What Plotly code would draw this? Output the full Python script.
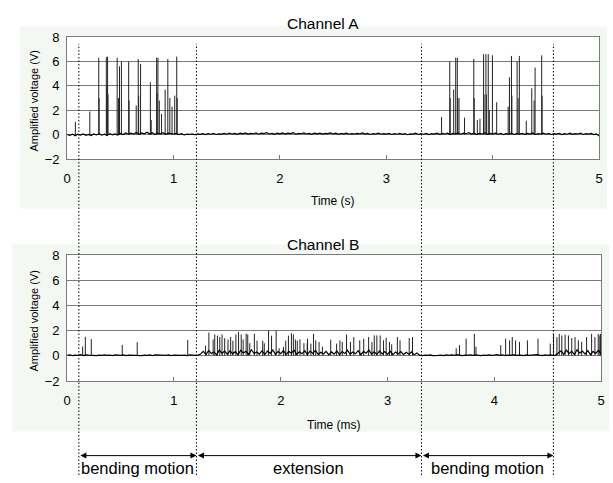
import numpy as np
import plotly.graph_objects as go

# ---------------- data ----------------
sample_step = 0.025  # s, baseline sampling interval
base_a = [0.02, -0.06, 0.05, -0.08, 0.04, -0.03, 0.07, -0.05, 0.03, -0.07, 0.06, -0.02, 0.08, -0.04, 0.05, -0.06, 0.09, -0.01, 0.06, -0.03,
          0.10, 0.02, 0.14, 0.04, 0.12, 0.06, 0.18, 0.03, 0.15, 0.08, 0.20, 0.05, 0.16, 0.02, 0.13, 0.07, 0.17, 0.04, 0.12, 0.09,
          0.06, 0.11, 0.01, 0.09, -0.02, 0.05, 0.02, 0.07, 0.00, 0.06, 0.03, 0.09, 0.01, 0.08, 0.04, 0.10, 0.02, 0.07, 0.05, 0.11,
          0.04, 0.12, 0.06, 0.10, 0.03, 0.13, 0.07, 0.15, 0.05, 0.11, 0.08, 0.14, 0.04, 0.12, 0.09, 0.16, 0.06, 0.10, 0.03, 0.13,
          0.07, 0.15, 0.05, 0.12, 0.09, 0.16, 0.04, 0.11, 0.08, 0.14, 0.06, 0.10, 0.03, 0.13, 0.07, 0.12, 0.05, 0.11, 0.09, 0.14,
          0.06, 0.12, 0.03, 0.10, 0.07, 0.13, 0.04, 0.09, 0.06, 0.11, 0.08, 0.14, 0.05, 0.10, 0.02, 0.09, 0.06, 0.12, 0.04, 0.08,
          0.05, 0.10, 0.02, 0.08, 0.04, 0.11, 0.03, 0.09, 0.00, 0.07, 0.05, 0.12, 0.02, 0.08, 0.04, 0.10, 0.01, 0.09, 0.05, 0.12,
          0.03, 0.10, 0.06, 0.13, 0.02, 0.11, 0.07, 0.15, 0.04, 0.12, 0.08, 0.16, 0.05, 0.13, 0.02, 0.11, 0.06, 0.14, 0.03, 0.10,
          0.07, 0.12, 0.04, 0.10, 0.01, 0.09, 0.05, 0.13, 0.02, 0.08, 0.06, 0.11, 0.03, 0.10, 0.05, 0.14, 0.02, 0.09, 0.06, 0.12,
          0.04, 0.10, 0.02, 0.08, 0.05, 0.11, 0.01, 0.09, 0.04, 0.12, 0.03, 0.08, 0.06, 0.13, 0.02, 0.09, 0.05, 0.10, 0.01, 0.07,
          -0.12]
base_b = [0.03, 0.07, 0.01, 0.06, 0.04, 0.09, 0.02, 0.08, 0.05, 0.03, 0.07, 0.02, 0.06, 0.04, 0.08, 0.03, 0.06, 0.01, 0.07, 0.05,
          0.04, 0.08, 0.02, 0.06, 0.05, 0.09, 0.03, 0.07, 0.01, 0.06, 0.04, 0.08, 0.02, 0.07, 0.05, 0.03, 0.06, 0.04, 0.08, 0.02,
          0.05, 0.03, 0.07, 0.04, 0.06, 0.02, 0.08, 0.05, 0.03, 0.06, 0.15, 0.35, 0.10, 0.42, 0.18, 0.30, 0.08, 0.45, 0.20, 0.38,
          0.12, 0.40, 0.16, 0.33, 0.09, 0.44, 0.22, 0.36, 0.11, 0.48, 0.18, 0.30, 0.14, 0.41, 0.10, 0.37, 0.20, 0.46, 0.13, 0.34,
          0.17, 0.42, 0.09, 0.35, 0.21, 0.45, 0.12, 0.32, 0.16, 0.40, 0.10, 0.38, 0.19, 0.43, 0.11, 0.29, 0.15, 0.36, 0.08, 0.31,
          0.14, 0.39, 0.10, 0.33, 0.18, 0.44, 0.12, 0.30, 0.16, 0.41, 0.09, 0.35, 0.20, 0.46, 0.13, 0.32, 0.11, 0.38, 0.15, 0.34,
          0.12, 0.36, 0.09, 0.30, 0.14, 0.33, 0.10, 0.28, 0.13, 0.31, 0.08, 0.22, 0.05, 0.02, 0.06, 0.03, 0.07, 0.01, 0.05, 0.04,
          0.06, 0.02, 0.08, 0.04, 0.07, 0.03, 0.09, 0.05, 0.02, 0.06, 0.04, 0.08, 0.03, 0.07, 0.05, 0.02, 0.06, 0.04, 0.08, 0.03,
          0.05, 0.09, 0.03, 0.07, 0.02, 0.06, 0.04, 0.10, 0.03, 0.07, 0.05, 0.02, 0.08, 0.04, 0.06, 0.03, 0.09, 0.05, 0.02, 0.07,
          0.04, 0.08, 0.03, 0.06, 0.20, 0.40, 0.12, 0.45, 0.18, 0.36, 0.10, 0.48, 0.22, 0.38, 0.14, 0.42, 0.09, 0.35, 0.19, 0.44,
          0.15]

spike_t_a = [0.077, 0.213, 0.297, 0.300, 0.368, 0.372, 0.380, 0.384, 0.470, 0.482,
             0.492, 0.510, 0.578, 0.582, 0.649, 0.668, 0.672, 0.690, 0.782, 0.790,
             0.841, 0.845, 0.853, 0.866, 0.887, 0.921, 0.946, 0.965, 0.986, 1.011,
             1.030, 1.034,
             3.519, 3.596, 3.600, 3.633, 3.652, 3.667, 3.671, 3.683, 3.735, 3.822,
             3.826, 3.855, 3.880, 3.914, 3.918, 3.936, 3.940, 3.958, 3.968, 3.997,
             4.037, 4.145, 4.157, 4.176, 4.180, 4.229, 4.238, 4.250, 4.315, 4.367,
             4.389, 4.398, 4.460, 4.464]
spike_h_a = [1.06, 1.9, 6.3, 3.0, 6.35, 4.0, 6.4, 3.3, 6.3, 3.0,
             5.6, 6.0, 6.0, 2.8, 2.4, 6.2, 3.2, 5.8, 4.3, 1.2,
             6.3, 3.4, 6.3, 2.8, 1.7, 3.7, 6.2, 3.0, 2.3, 3.2,
             6.4, 3.0,
             1.45, 6.0, 3.0, 3.7, 6.3, 6.3, 3.0, 3.0, 1.4, 6.2,
             3.0, 1.2, 1.3, 6.6, 3.3, 6.6, 3.3, 6.6, 2.0, 6.5,
             2.65, 2.3, 4.7, 6.45, 3.2, 6.0, 3.0, 6.45, 1.15, 3.8,
             2.8, 5.5, 6.5, 3.2]

spike_t_b = [0.145, 0.170, 0.226, 0.516, 0.656, 1.129,
             1.296, 1.327, 1.367, 1.382, 1.407, 1.429, 1.450, 1.475, 1.506, 1.531,
             1.552, 1.580, 1.605, 1.630, 1.648, 1.676, 1.691, 1.710, 1.753, 1.778,
             1.831, 1.846, 1.886, 1.914, 1.957, 1.985, 2.025, 2.047, 2.072, 2.100,
             2.118, 2.137, 2.155, 2.180, 2.217, 2.248,
             2.251, 2.282, 2.307, 2.328, 2.359, 2.390, 2.468, 2.523, 2.554, 2.576,
             2.616, 2.653, 2.684, 2.740, 2.777, 2.823, 2.854, 2.876, 2.900, 2.931,
             2.962, 2.987, 3.018, 3.039, 3.092, 3.117, 3.203, 3.234,
             3.643, 3.674, 3.736, 3.813, 3.828, 4.060, 4.106, 4.143, 4.168, 4.199,
             4.236, 4.310, 4.409, 4.524, 4.555, 4.586, 4.608, 4.632, 4.663, 4.694,
             4.725, 4.756, 4.787, 4.818, 4.864, 4.911, 4.942, 4.973, 4.988, 4.995]
spike_h_b = [0.74, 1.51, 1.33, 0.87, 1.08, 1.26,
             0.8, 1.85, 1.3, 1.7, 1.6, 1.5, 1.7, 1.4, 1.3, 1.5,
             1.2, 1.7, 1.9, 1.7, 1.3, 1.75, 1.7, 1.0, 1.75, 1.2,
             1.2, 1.0, 2.0, 1.6, 2.0, 0.6, 0.7, 1.2, 1.6, 1.8,
             1.7, 1.3, 1.2, 1.3, 1.0, 1.0,
             1.36, 0.97, 1.74, 1.23, 1.1, 0.72, 1.28, 0.97, 1.23, 1.1,
             1.69, 1.1, 1.49, 1.23, 1.36, 1.49, 1.1, 1.62, 1.62, 1.62,
             1.23, 1.44, 1.1, 0.92, 1.49, 1.23, 1.41, 1.49,
             0.59, 0.85, 1.36, 1.74, 0.72, 0.85, 1.36, 1.23, 1.49, 1.23,
             1.1, 1.23, 1.36, 0.97, 1.74, 1.49, 1.74, 1.62, 1.69, 1.62,
             1.41, 1.49, 1.23, 1.1, 1.49, 1.74, 1.49, 1.74, 1.62, 1.74]

x_ticks = [0, 1, 2, 3, 4, 5]
y_ticks = [-2, 0, 2, 4, 6, 8]
phase_bounds = [0.11, 1.215, 3.33, 4.57]
phase_labels = ["bending motion", "extension", "bending motion"]
panel_titles = ["Channel A", "Channel B"]
x_titles = ["Time (s)", "Time (ms)"]
y_title = "Amplified voltage (V)"

# ---------------- helpers ----------------
W, H = 613, 483
FONT = "Liberation Sans, Arial, sans-serif"


def px(x):
    return x / W


def py(y):
    return 1 - y / H


def spikes(ts, hs):
    xs, ys = [], []
    for t, h in zip(ts, hs):
        xs += [t, t, None]
        ys += [0.02, h, None]
    return xs, ys


tb_a = np.arange(len(base_a)) * sample_step
tb_b = np.arange(len(base_b)) * sample_step

fig = go.Figure()
for (tb, bb, st, sh, ax) in [(tb_a, base_a, spike_t_a, spike_h_a, ("x", "y")),
                             (tb_b, base_b, spike_t_b, spike_h_b, ("x2", "y2"))]:
    sx, sy = spikes(st, sh)
    fig.add_trace(go.Scatter(x=sx, y=sy, mode="lines", xaxis=ax[0], yaxis=ax[1],
                             line=dict(color="#222222", width=1), showlegend=False,
                             hoverinfo="skip"))
    fig.add_trace(go.Scatter(x=tb, y=bb, mode="lines", xaxis=ax[0], yaxis=ax[1],
                             line=dict(color="black", width=1.2), showlegend=False))

# plot-area pixel boxes (left, top, right, bottom)
box_a = (64, 31, 603, 157)
box_b = (64, 256, 605, 386)

axis_common = dict(showline=True, mirror=True, linecolor="#7a7a7a", linewidth=1,
                   zeroline=False, tickfont=dict(family=FONT, size=13, color="black"))
xcommon = dict(axis_common, range=[0, 5], tickvals=x_ticks, ticks="inside", ticklen=4,
               tickcolor="#7a7a7a", showgrid=False, ticklabelstandoff=7)
ycommon = dict(axis_common, range=[-2, 8], tickvals=y_ticks, ticks="", ticklen=0,
               showgrid=True, gridcolor="#7a7a7a", gridwidth=1, ticklabelstandoff=4)

fig.update_layout(
    width=W, height=H, autosize=False,
    margin=dict(l=0, r=0, t=0, b=0),
    paper_bgcolor="white", plot_bgcolor="rgba(0,0,0,0)",
    xaxis=dict(xcommon, domain=[px(box_a[0]), px(box_a[2])], anchor="y"),
    yaxis=dict(ycommon, domain=[py(box_a[3]), py(box_a[1])], anchor="x"),
    xaxis2=dict(xcommon, domain=[px(box_b[0]), px(box_b[2])], anchor="y2"),
    yaxis2=dict(ycommon, domain=[py(box_b[3]), py(box_b[1])], anchor="x2"),
)

shapes = []
# chart-area backgrounds
for (x0, y0, x1, y1) in [(16, 20, 611, 208), (8, 245, 613, 438)]:
    shapes.append(dict(type="rect", xref="paper", yref="paper", x0=px(x0), x1=px(x1),
                       y0=py(y1), y1=py(y0), fillcolor="#f3f8f3", line=dict(width=0),
                       layer="below"))
for b in (box_a, box_b):
    shapes.append(dict(type="rect", xref="paper", yref="paper", x0=px(b[0]), x1=px(b[2]),
                       y0=py(b[3]), y1=py(b[1]), fillcolor="white", line=dict(width=0),
                       layer="below"))
# dotted phase boundaries
for xb in phase_bounds:
    shapes.append(dict(type="line", xref="x", yref="paper", x0=xb, x1=xb,
                       y0=0, y1=py(38), line=dict(color="black", width=1, dash="1.5px,2px"),
                       layer="above"))
fig.update_layout(shapes=shapes)

ann = []
title_y = [17, 245]
xt_y = [200, 431]
boxes = [box_a, box_b]
for i in range(2):
    b = boxes[i]
    cx = (b[0] + b[2]) / 2
    ann.append(dict(text=panel_titles[i], xref="paper", yref="paper", x=px(323), y=py(title_y[i]),
                    showarrow=False, xanchor="center", yanchor="middle",
                    font=dict(family=FONT, size=15.5, color="black")))
    ann.append(dict(text=x_titles[i], xref="paper", yref="paper", x=px(cx), y=py(xt_y[i]),
                    showarrow=False, xanchor="center", yanchor="middle",
                    font=dict(family=FONT, size=12, color="black")))
    ann.append(dict(text=y_title, xref="paper", yref="paper", x=px(30), y=py((b[1] + b[3]) / 2 + 3),
                    showarrow=False, xanchor="center", yanchor="middle", textangle=-90,
                    font=dict(family=FONT, size=11, color="black")))

# double-headed arrows and phase labels
arrow_y = py(463)
for j in range(3):
    x0, x1 = phase_bounds[j], phase_bounds[j + 1]
    ann.append(dict(text="", xref="x", yref="paper", x=x1, y=arrow_y, axref="x", ax=x0,
                    ayref="pixel", ay=0, showarrow=True, arrowside="end+start",
                    arrowhead=2, arrowsize=1.2, arrowwidth=1, arrowcolor="black",
                    standoff=0, startstandoff=0))
    ann.append(dict(text=phase_labels[j], xref="x", yref="paper", x=(x0 + x1) / 2, y=py(476),
                    showarrow=False, xanchor="center", yanchor="middle",
                    font=dict(family=FONT, size=16.5, color="black")))
fig.update_layout(annotations=ann)

fig.write_html(
    "out.html",
    config={"displayModeBar": False},
    post_script="document.body.style.margin='0';document.body.style.overflow='hidden';"
                "document.documentElement.style.overflow='hidden';",
)
